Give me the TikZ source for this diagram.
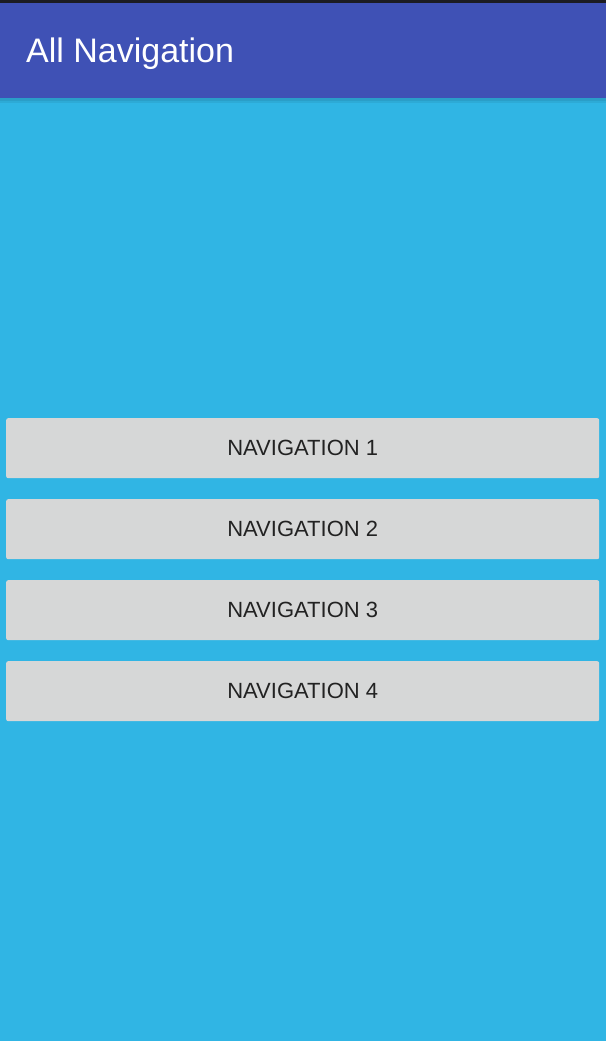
\documentclass[tikz,border=0pt]{standalone}
\usepackage{fontspec}
\setmainfont{Liberation Sans}
\definecolor{bgblue}{HTML}{30B5E4}
\definecolor{barblue}{HTML}{3F51B5}
\definecolor{statusbar}{HTML}{1C1C22}
\definecolor{btngray}{HTML}{D6D7D7}
\definecolor{btntext}{HTML}{222222}
\begin{document}
\begin{tikzpicture}[x=1pt,y=-1pt,
  navbtn/.style={fill=btngray, draw=none, rounded corners=2pt, minimum width=593pt, minimum height=60pt,
    inner sep=0pt, font=\fontsize{22}{26}\selectfont, text=btntext, anchor=north west}]
\useasboundingbox (0,0) rectangle (606,1041);
\fill[bgblue] (0,0) rectangle (606,1041);
\fill[barblue] (0,0) rectangle (606,98);
\fill[statusbar] (0,0) rectangle (606,3);
\fill[black, opacity=0.12] (0,98) rectangle (606,101);
\fill[black, opacity=0.06] (0,101) rectangle (606,103);
\node[anchor=base west, text=white, inner sep=0pt, font=\fontsize{34}{40}\selectfont] (title) at (26,63) {All Navigation};
\node[navbtn] (nav1) at (6,418) {NAVIGATION 1};
\node[navbtn] (nav2) at (6,499) {NAVIGATION 2};
\node[navbtn] (nav3) at (6,580) {NAVIGATION 3};
\node[navbtn] (nav4) at (6,661) {NAVIGATION 4};
\end{tikzpicture}
\end{document}
